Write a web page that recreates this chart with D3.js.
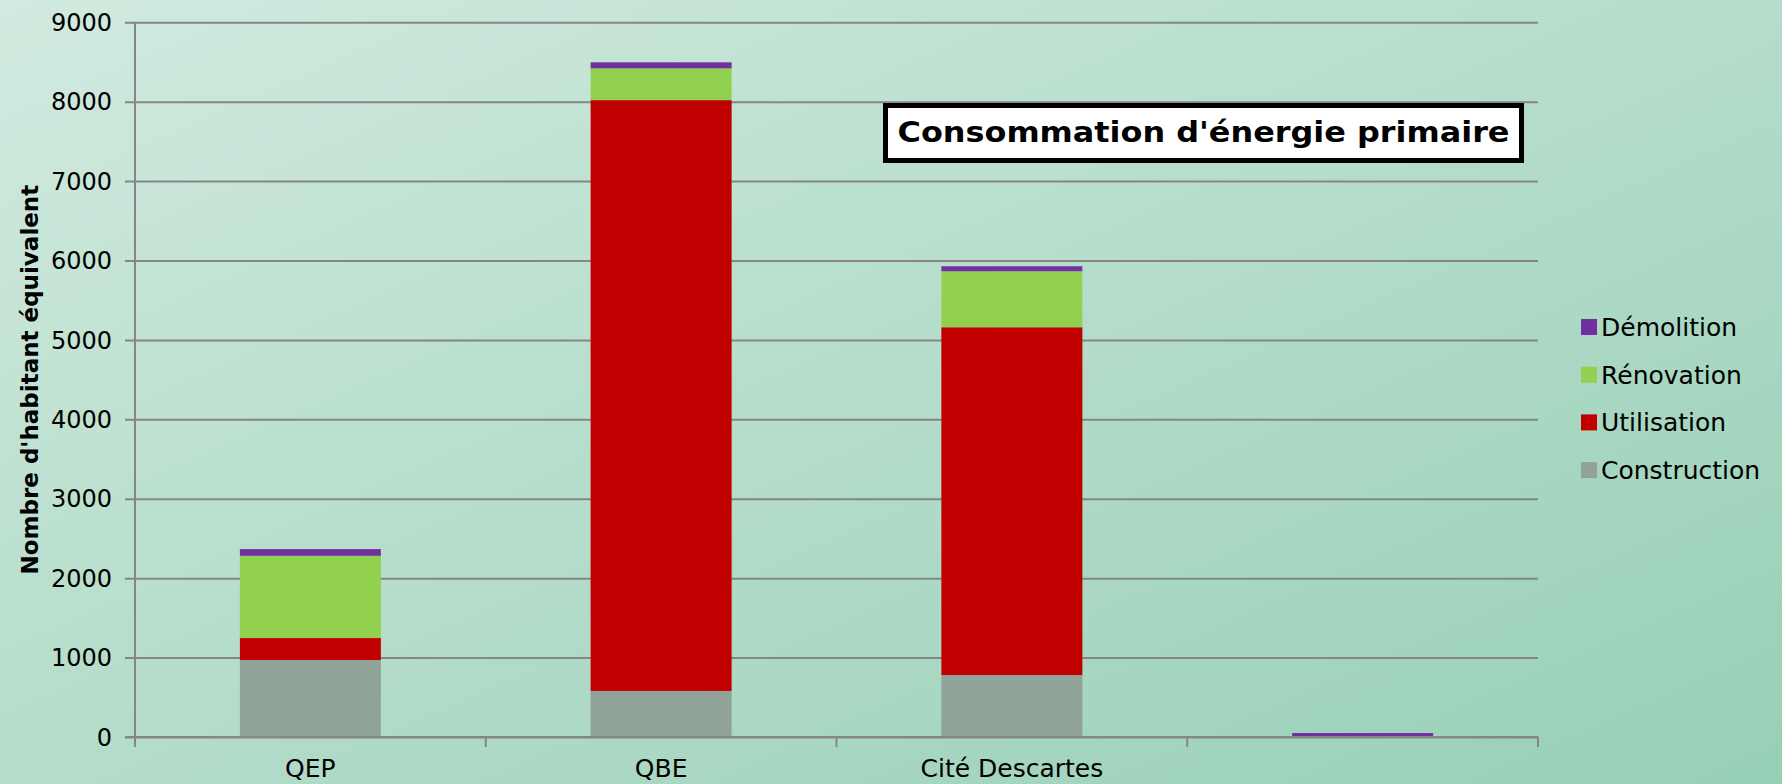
<!DOCTYPE html>
<head>
  <meta charset="utf-8">
  <style>
    body { margin: 0; }
    svg { display: block; font-family: "DejaVu Sans", sans-serif; }
    .grid line, .grid path, .xaxis line, .xaxis path { stroke: #868686; stroke-width: 2; }
  </style>
  <script src="https://d3js.org/d3.v7.min.js"></script>
  <title></title>
</head>
<body>
<div id="chart"></div>
<script>
    // categories and series
    const sites = ['QEP', 'QBE', 'Cité Descartes', ''];
    const construction = [970, 580, 780, 0];
    const utilisation = [276, 7440, 4380, 0];
    const renovation = [1036, 400, 705, 0];
    const demolition = [84, 76, 63, 50];
    const seriesNames = ['Construction', 'Utilisation', 'Rénovation', 'Démolition'];
    const seriesColors = ['#91a398', '#c00000', '#92d050', '#7030a0'];
    const yTicks = [0, 1000, 2000, 3000, 4000, 5000, 6000, 7000, 8000, 9000];

    const width = 1782;
    const height = 784;
    const plot = { left: 135, right: 1538, top: 22.3, bottom: 737 };

    const rows = sites.map((s, i) => ({
        site: s,
        Construction: construction[i],
        Utilisation: utilisation[i],
        'Rénovation': renovation[i],
        'Démolition': demolition[i]
    }));

    const svg = d3.select('#chart').append('svg')
        .attr('width', width)
        .attr('height', height);

    const defs = svg.append('defs');
    const grad = defs.append('linearGradient')
        .attr('id', 'bg')
        .attr('x1', '0%').attr('y1', '0%')
        .attr('x2', '100%').attr('y2', '100%');
    grad.append('stop').attr('offset', '0%').attr('stop-color', '#d1eadf');
    grad.append('stop').attr('offset', '100%').attr('stop-color', '#97cfb6');

    svg.append('rect')
        .attr('width', width).attr('height', height)
        .attr('fill', 'url(#bg)');

    const x = d3.scaleBand()
        .domain(d3.range(sites.length))
        .range([plot.left, plot.right])
        .paddingInner(0.598)
        .paddingOuter(0.299);

    const y = d3.scaleLinear()
        .domain([0, 9000])
        .range([plot.bottom, plot.top]);

    // horizontal gridlines + tick labels
    const grid = svg.append('g')
        .attr('class', 'grid')
        .attr('transform', `translate(${plot.left},0)`)
        .call(d3.axisLeft(y)
            .tickValues(yTicks)
            .tickSize(-(plot.right - plot.left))
            .tickSizeOuter(0)
            .tickFormat(''));
    grid.select('.domain').remove();
    grid.selectAll('.tick line').attr('x1', -10);

    svg.append('g')
        .selectAll('text')
        .data(yTicks)
        .join('text')
        .attr('x', 112)
        .attr('y', d => y(d))
        .attr('dy', '0.36em')
        .attr('text-anchor', 'end')
        .attr('font-size', 24)
        .attr('fill', '#000')
        .text(d => d);

    // stacked bars
    const stack = d3.stack().keys(seriesNames);
    const layers = stack(rows);

    svg.append('g')
        .selectAll('g')
        .data(layers)
        .join('g')
        .attr('fill', (d, i) => seriesColors[i])
        .selectAll('rect')
        .data(d => d)
        .join('rect')
        .attr('x', (d, i) => x(i))
        .attr('width', x.bandwidth())
        .attr('y', d => y(d[1]))
        .attr('height', d => y(d[0]) - y(d[1]));

    // vertical axis line
    svg.append('line')
        .attr('x1', plot.left).attr('x2', plot.left)
        .attr('y1', plot.top).attr('y2', plot.bottom + 10)
        .attr('stroke', '#868686').attr('stroke-width', 2);

    // horizontal axis with category boundary ticks
    const step = (plot.right - plot.left) / sites.length;
    const xb = svg.append('g').attr('class', 'xaxis');
    xb.append('line')
        .attr('x1', plot.left - 10).attr('x2', plot.right)
        .attr('y1', plot.bottom).attr('y2', plot.bottom);
    xb.selectAll('.bt')
        .data(d3.range(sites.length + 1))
        .join('line')
        .attr('class', 'bt')
        .attr('x1', i => plot.left + i * step).attr('x2', i => plot.left + i * step)
        .attr('y1', plot.bottom).attr('y2', plot.bottom + 10);

    svg.append('g')
        .selectAll('text')
        .data(sites)
        .join('text')
        .attr('x', (d, i) => x(i) + x.bandwidth() / 2)
        .attr('y', 777)
        .attr('text-anchor', 'middle')
        .attr('font-size', 25)
        .attr('fill', '#000')
        .text(d => d);

    // y axis title
    svg.append('text')
        .attr('transform', `translate(38,${(plot.top + plot.bottom) / 2}) rotate(-90)`)
        .attr('text-anchor', 'middle')
        .attr('font-size', 23)
        .attr('font-weight', 'bold')
        .attr('fill', '#000')
        .text("Nombre d'habitant équivalent");

    // title box
    svg.append('rect')
        .attr('x', 885.5).attr('y', 105.5)
        .attr('width', 636).attr('height', 55)
        .attr('fill', '#fff')
        .attr('stroke', '#000')
        .attr('stroke-width', 5);
    svg.append('text')
        .attr('x', 1203.5).attr('y', 142)
        .attr('text-anchor', 'middle')
        .attr('font-size', 29)
        .attr('font-weight', 'bold')
        .attr('textLength', 612)
        .attr('lengthAdjust', 'spacingAndGlyphs')
        .attr('fill', '#000')
        .text("Consommation d'énergie primaire");

    // legend (top to bottom: Démolition ... Construction)
    const legendOrder = seriesNames.map((n, i) => ({ name: n, color: seriesColors[i] })).reverse();
    const legend = svg.append('g')
        .selectAll('g')
        .data(legendOrder)
        .join('g')
        .attr('transform', (d, i) => `translate(1581,${319 + i * 47.7})`);
    legend.append('rect')
        .attr('width', 16).attr('height', 16)
        .attr('fill', d => d.color);
    legend.append('text')
        .attr('x', 20).attr('y', 8)
        .attr('dy', '0.36em')
        .attr('font-size', 25)
        .attr('fill', '#000')
        .text(d => d.name);
</script>
</body>
